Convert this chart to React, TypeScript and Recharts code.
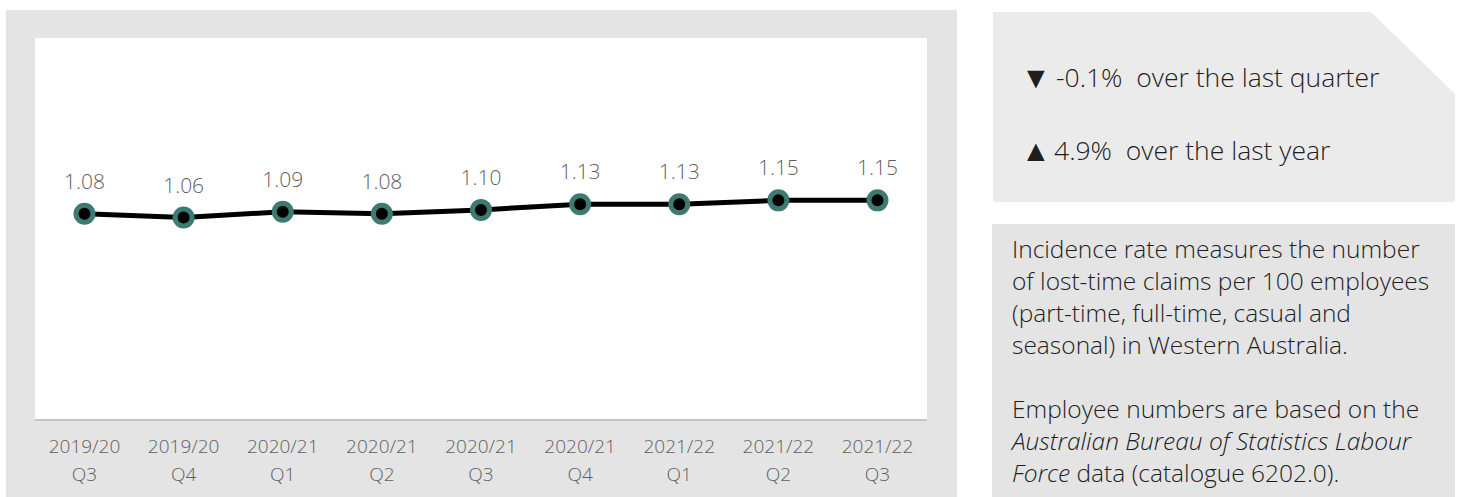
import { CartesianGrid, LabelList, Line, LineChart, XAxis, YAxis } from 'recharts';

const years = ['2019/20', '2019/20', '2020/21', '2020/21', '2020/21', '2020/21', '2021/22', '2021/22', '2021/22'];
const quarters = ['Q3', 'Q4', 'Q1', 'Q2', 'Q3', 'Q4', 'Q1', 'Q2', 'Q3'];
const rates = [1.08, 1.06, 1.09, 1.08, 1.1, 1.13, 1.13, 1.15, 1.15];

const data = rates.map((value, i) => ({ key: `${years[i]} ${quarters[i]}`, year: years[i], quarter: quarters[i], value }));

const font = "'Open Sans', 'Noto Sans', sans-serif";

function QuarterTick(props: any) {
  const { x, y, payload } = props;
  const i = payload.index;
  return (
    <text x={x} y={y} textAnchor="middle" fill="#5f5f5f" fontSize={19} fontWeight={300} fontFamily={font}>
      <tspan x={x} dy={25}>{years[i]}</tspan>
      <tspan x={x} dy={28}>{quarters[i]}</tspan>
    </text>
  );
}

export default function App() {
  return (
    <div style={{ position: 'absolute', left: 0, top: 0, width: 1458, height: 497, background: '#fff', fontFamily: font }}>
      <div style={{ position: 'absolute', left: 6, top: 10, width: 951, height: 487, background: '#e4e4e4' }} />
      <div style={{ position: 'absolute', left: 0, top: 0 }}>
        <LineChart width={957} height={497} data={data} margin={{ top: 38, right: 30, left: 35, bottom: 0 }}>
          <CartesianGrid horizontal={false} vertical={false} fill="#ffffff" />
          <XAxis
            dataKey="key"
            height={77}
            interval={0}
            padding={{ left: 49.5, right: 49.5 }}
            tickLine={false}
            axisLine={{ stroke: '#c6c6c6', strokeWidth: 2 }}
            tick={<QuarterTick />}
          />
          <YAxis hide domain={[0, 2]} width={0} />
          <Line
            dataKey="value"
            stroke="#000"
            strokeWidth={5}
            dot={{ r: 8.5, fill: '#000', stroke: '#3d7a72', strokeWidth: 5 }}
            isAnimationActive={false}
          >
            <LabelList
              dataKey="value"
              position="top"
              offset={25}
              fill="#5f5f5f"
              stroke="none"
              formatter={(v: any) => Number(v).toFixed(2)}
              style={{ fill: '#5f5f5f', fontSize: 21, fontWeight: 300, fontFamily: font }}
            />
          </Line>
        </LineChart>
      </div>

      <div
        style={{
          position: 'absolute',
          left: 993,
          top: 12,
          width: 462,
          height: 190,
          background: '#ebebeb',
          clipPath: 'polygon(0 0, 378px 0, 462px 82px, 462px 190px, 0 190px)',
          color: '#1e1e1e',
          fontSize: 26.5,
          fontWeight: 300,
        }}
      >
        <div style={{ position: 'absolute', left: 28, top: 46, fontSize: 30, lineHeight: '38px' }}>▼</div>
        <div style={{ position: 'absolute', left: 63, top: 47, lineHeight: '36px', whiteSpace: 'pre' }}>-0.1%  over the last quarter</div>
        <div style={{ position: 'absolute', left: 28, top: 119, fontSize: 30, lineHeight: '38px' }}>▲</div>
        <div style={{ position: 'absolute', left: 61, top: 120, lineHeight: '36px', whiteSpace: 'pre' }}>4.9%  over the last year</div>
      </div>

      <div
        style={{
          position: 'absolute',
          left: 992,
          top: 224,
          width: 463,
          height: 273,
          background: '#e4e4e4',
          color: '#1e1e1e',
          fontSize: 24.5,
          fontWeight: 300,
          lineHeight: '32px',
        }}
      >
        <div style={{ position: 'absolute', left: 20, top: 9, whiteSpace: 'nowrap' }}>
          Incidence rate measures the number
          <br />
          of lost-time claims per 100 employees
          <br />
          (part-time, full-time, casual and
          <br />
          seasonal) in Western Australia.
          <br />
          <br />
          Employee numbers are based on the
          <br />
          <i>Australian Bureau of Statistics Labour</i>
          <br />
          <i>Force</i> data (catalogue 6202.0).
        </div>
      </div>
    </div>
  );
}
